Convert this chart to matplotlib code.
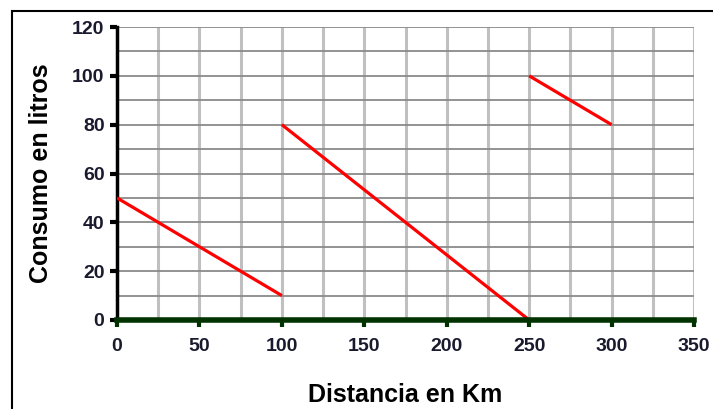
import matplotlib.pyplot as plt
import numpy as np
from matplotlib.patches import Rectangle

# segments of the consumption graph (km, litres)
seg_x = [[0, 100], [100, 250], [250, 300]]
seg_y = [[50, 10], [80, 0], [100, 80]]

xticks = [0, 50, 100, 150, 200, 250, 300, 350]
yticks = [0, 20, 40, 60, 80, 100, 120]

plt.rcParams['font.family'] = ['Liberation Sans', 'DejaVu Sans']

fig = plt.figure(figsize=(7.13, 4.09), dpi=100)
ax = fig.add_axes([117/713, 89/409, 577/713, 293/409])

# outer frame (only left and top visible in the reference)
fig.patches.append(Rectangle((12/713, -0.1), 1.2, (409-11)/409 + 0.1,
                             transform=fig.transFigure, fill=False,
                             edgecolor='black', lw=1.5))

# grid
for xv in np.arange(25, 351, 25):
    ax.axvline(xv, color='#c0c0c0', lw=2.2, zorder=1)
for yv in np.arange(10, 121, 10):
    ax.axhline(yv, color='#8a8a8a', lw=1.3, zorder=1)

for xs, ys in zip(seg_x, seg_y):
    ax.plot(xs, ys, color='#ff0000', lw=2.3, zorder=3, solid_capstyle='butt')

ax.set_xlim(0, 350)
ax.set_ylim(0, 120)
ax.set_xticks(xticks)
ax.set_yticks(yticks)
ax.set_xticklabels([str(v) for v in xticks], fontsize=14, fontweight='bold', color='#1a1a2e')
ax.set_yticklabels([str(v) for v in yticks], fontsize=14, fontweight='bold', color='#1a1a2e')

for s in ['top', 'right']:
    ax.spines[s].set_visible(False)
ax.spines['left'].set_color('black')
ax.spines['left'].set_linewidth(2.5)
ax.spines['bottom'].set_color('#003300')
ax.spines['bottom'].set_linewidth(4)
ax.spines['bottom'].set_zorder(4)
ax.tick_params(axis='y', length=5, width=3, color='black', pad=4)
ax.tick_params(axis='x', length=5, width=3, color='#003300', pad=8)

ax.set_xlabel('Distancia en Km', fontsize=18, fontweight='bold', labelpad=20)
ax.set_ylabel('Consumo en litros', fontsize=18, fontweight='bold', labelpad=14)

fig.savefig('out.png', dpi=100)
